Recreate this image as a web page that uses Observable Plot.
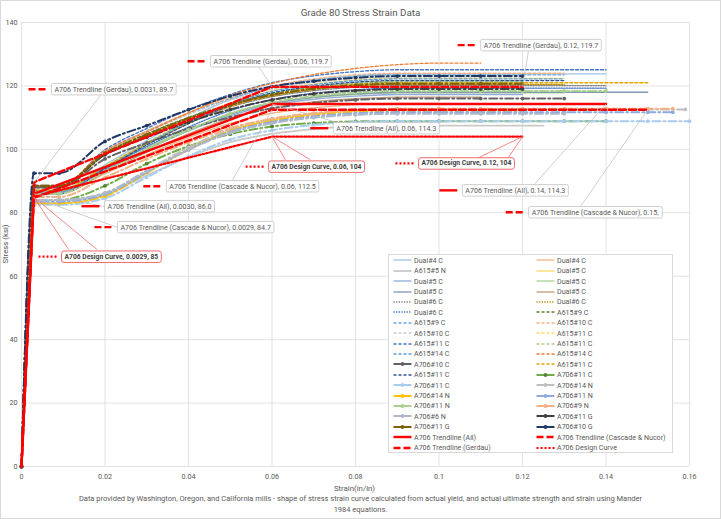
<!DOCTYPE html>
<html><head><meta charset="utf-8">
<script src="https://cdn.jsdelivr.net/npm/d3@7"></script>
<script src="https://cdn.jsdelivr.net/npm/@observablehq/plot@0.6"></script>
<style>
body{margin:0;background:#fff;}
#chart{position:relative;width:721px;height:519px;overflow:hidden;background:#fff;
  font-family:Roboto,"Noto Sans",sans-serif;color:#595959;}
#chart svg.plot{position:absolute;left:0;top:0;}
.frame{position:absolute;left:0;top:0;width:719px;height:517px;border:1px solid #d9d9d9;pointer-events:none;}
.title,.xlabel,.caption{position:absolute;left:0;width:721px;text-align:center;color:#595959;white-space:nowrap;}
.ylabel{position:absolute;width:100px;text-align:center;color:#595959;transform:rotate(-90deg);white-space:nowrap;}
.legend{position:absolute;left:388px;top:254px;width:285px;height:199px;background:#fff;border:1px solid #d9d9d9;box-sizing:border-box;}
.li{position:absolute;height:9px;white-space:nowrap;line-height:9px;color:#595959;}
.li svg{position:absolute;left:0;top:0.5px;}
.li span{position:absolute;left:21px;top:0;}
</style></head>
<body>
<div id="chart"></div>
<script>
// ---------------- data ----------------
const xTicks = [0, 0.02, 0.04, 0.06, 0.08, 0.10, 0.12, 0.14, 0.16];
const xTickLabels = ["0", "0.02", "0.04", "0.06", "0.08", "0.1", "0.12", "0.14", "0.16"];
const yTicks = [0, 20, 40, 60, 80, 100, 120, 140];

// strain points at which curve stresses were read (in/in)
const strainGrid = [0, 0.003, 0.009, 0.02, 0.03, 0.04, 0.05, 0.06, 0.07, 0.08, 0.09, 0.10, 0.11, 0.12, 0.13, 0.14, 0.15, 0.16];

const seriesNames = [
  "Dual#4 C","Dual#4 C","A615#5 N","Dual#5 C","Dual#5 C","Dual#5 C","Dual#5 C","Dual#5 C",
  "Dual#6 C","Dual#6 C","Dual#6 C","A615#9 C","A615#9 C","A615#10 C","A615#10 C","A615#11 C",
  "A615#11 C","A615#11 C","A615#14 C","A615#14 C","A706#10 C","A615#11 C","A615#11 C","A706#11 C",
  "A706#11 C","A706#14 N","A706#14 N","A706#11 N","A706#11 N","A706#9 N","A706#6 N","A706#11 G",
  "A706#11 G","A706#10 G",
  "A706 Trendline (All)","A706 Trendline (Cascade & Nucor)","A706 Trendline (Gerdau)","A706 Design Curve"
];

// stress (ksi) read at strainGrid points; last value continues flat to the series' final strain
const curveStress = [
  [0,87,87,95.1,102.8,109.8,115.7,119.8,122.0,123.2,123.8],
  [0,86,86,92.3,98.3,103.7,108.2,111.4,113.1,114.1,114.5],
  [0,84,84,85.9,91.8,97.6,102.3,104.9,106.4,107.3,107.5],
  [0,83,83,85.4,92.7,100.1,106.0,109.3,111.2,112.2,112.5],
  [0,87,87,93.7,100.0,105.8,110.6,114.0,115.8,116.8,117.3],
  [0,87.5,87.5,94.2,100.5,106.3,111.1,114.5,116.3,117.3,117.8],
  [0,86.5,86.5,93.4,100.0,106.0,111.1,114.5,116.4,117.5,118.0],
  [0,86,86,92.7,99.1,104.9,109.8,113.1,115.0,116.0,116.5],
  [0,88,88,98.3,104.1,109.2,113.4,116.6,118.5,119.6,120.1],
  [0,88,88,98.4,104.3,109.5,113.7,116.9,118.9,120.0,120.5],
  [0,87,87,94.1,100.9,107.0,112.2,115.7,117.7,118.8,119.3],
  [0,88.5,88.5,99.0,104.9,110.1,114.3,117.6,119.6,120.7,121.2],
  [0,88,88,99.4,105.8,111.4,116.0,119.6,121.7,123.0,123.5],
  [0,87.5,87.5,99.2,105.8,111.6,116.3,120.0,122.2,123.5,124.0],
  [0,88,88,99.1,105.4,111.0,115.5,119.0,121.1,122.3,122.8],
  [0,87,87,94.8,102.2,109.0,114.6,118.5,120.6,121.9,122.4],
  [0,88,88,99.9,106.6,112.5,117.3,121.0,123.2,124.5,125.1],
  [0,87,87,94.6,101.8,108.4,113.9,117.7,119.8,121.0,121.5],
  [0,86.5,86.5,94.4,101.9,108.6,114.3,118.3,120.4,121.7,122.2],
  [0,88.5,88.5,99.5,105.5,111.5,117.0,120.8,123.6,125.5,126.7,127.2],
  [0,88,88,97.0,102.0,106.5,110.1,112.9,114.6,115.6,116.0],
  [0,87,87,94.5,101.6,108.1,113.5,117.3,119.3,120.5,121.0],
  [0,86,86,93.9,101.4,108.1,113.8,117.8,119.9,121.2,121.7],
  [0,84,84,88.5,95.5,101.0,104.8,107.2,108.3,108.8,108.9],
  [0,82.5,82.5,84.6,91.2,97.8,103.1,106.0,107.7,108.6,108.9],
  [0,84,84,86.3,93.4,100.6,106.3,109.5,111.3,112.3,112.6],
  [0,83,83,85.3,92.6,99.9,105.8,109.0,110.9,111.9,112.2],
  [0,83.5,83.5,85.8,92.8,99.9,105.5,108.6,110.4,111.4,111.7],
  [0,86,86,93.1,99.9,106.1,111.3,114.8,116.8,117.9,118.4],
  [0,85,85,91.1,97.0,102.2,106.7,109.7,111.4,112.4,112.8],
  [0,84,84,86.2,93.0,99.8,105.2,108.2,110.0,110.9,111.2],
  [0,88.5,88.5,98.3,103.8,108.6,112.6,115.6,117.5,118.5,119.0],
  [0,88.5,88.5,98.8,104.6,109.8,114.0,117.2,119.1,120.2,120.7],
  [0,92.5,92.5,102.5,107.5,112.5,116.8,119.8,121.5,122.6,123.1]
];
// final strain of each measured curve
const curveEnd = [0.14,0.10,0.125,0.12,0.12,0.13,0.15,0.11,0.14,0.13,0.14,0.12,0.13,0.13,0.12,0.13,
  0.14,0.12,0.13,0.11,0.13,0.15,0.13,0.14,0.16,0.159,0.12,0.156,0.14,0.156,0.13,0.12,0.12,0.12];

// trendlines / design curve
const trendStrain = [[0,0.0030,0.06,0.14],[0,0.0029,0.06,0.15],[0,0.0031,0.06,0.12],[0,0.0029,0.06,0.12]];
const trendStress = [[0,86.0,114.3,114.3],[0,84.7,112.5,112.5],[0,89.7,119.7,119.7],[0,85,104,104]];

// callouts
const calloutText = [
  "A706 Trendline (Gerdau), 0.0031, 89.7","A706 Trendline (Gerdau), 0.06, 119.7","A706 Trendline (Gerdau), 0.12, 119.7",
  "A706 Trendline (All), 0.06, 114.3","A706 Trendline (All), 0.14, 114.3","A706 Trendline (Cascade & Nucor), 0.06, 112.5",
  "A706 Trendline (Cascade & Nucor), 0.0029, 84.7","A706 Trendline (Cascade & Nucor), 0.15,","A706 Trendline (All), 0.0030, 86.0",
  "A706 Design Curve, 0.0029, 85","A706 Design Curve, 0.06, 104","A706 Design Curve, 0.12, 104"
];
const calloutPoint = [[0.0031,89.7],[0.06,119.7],[0.12,119.7],[0.06,114.3],[0.14,114.3],[0.06,112.5],
  [0.0029,84.7],[0.15,112.5],[0.003,86.0],[0.0029,85],[0.06,104],[0.12,104]];
const calloutSeries = [36,36,36,34,34,35,35,35,34,37,37,37];
// layout of the callout boxes, in chart units (text left edge, text middle)
const calloutAt = [[0.0079,118.9],[0.046,127.7],[0.1107,132.8],[0.0754,106.6],[0.1063,87.0],[0.0354,88.3],
  [0.0237,75.4],[0.1222,80.1],[0.0206,82.0],[0.0103,66.2],[0.0599,94.6],[0.0958,95.6]];
const calloutLeader = [[[0.0189,117.0]],[[0.0568,126.1]],[[0.1214,130.9]],[[0.0764,108.2]],[[0.1226,88.6]],
  [[0.0505,90.2]],[[0.023,75.4]],[[0.1339,82.0]],[[0.0199,82.0]],
  [[0.0113,68.4],[0.0181,68.4]],[[0.0632,96.7],[0.0692,96.7]],[[0.1095,97.4],[0.1166,97.4]]];

const titleText = "Grade 80 Stress Strain Data";
const xLabel = "Strain(in/in)";
const yLabel = "Stress (ksi)";
const captionLines = ["Data provided by Washington, Oregon, and California mills - shape of stress strain curve calculated from actual yield, and actual ultimate strength and strain using Mander", "1984 equations."];

// ---------------- styles ----------------
const seriesColor = ["#9DC3E6","#F4B183","#C9C9C9","#FFD966","#8FAADC","#A9D18E","#8497B0","#C09A78",
  "#7F7F7F","#BF9000","#4472C4","#548235","#6FA8DC","#F4B183","#C9C9C9","#FFD966",
  "#4472C4","#A9D18E","#5B9BD5","#ED7D31","#636363","#E3A600","#2F5597","#70AD47",
  "#A8CDEE","#BFBFBF","#FFC000","#8FAADC","#A9D18E","#F4B183","#ADB9CA","#404040",
  "#7F6000","#203864","#FF0000","#FF0000","#FF0000","#FF0000"];
const markerColor = {23:"#548235"};
const seriesKind = ["s","s","s","s","s","s","s","s","o","o","o","d","d","d","d","d",
  "d","d","d","d","m","d","d","m","m","m","m","m","m","m","m","m","m","m","S","D","D","O"];
const kindDash = {s:null, o:"1.3,1.3", d:"3,2", m:"8,3,2,3", S:null, D:"7,3", O:"2,2"};
const kindWidth = {s:1.3, o:1.3, d:1.3, m:2, S:2.4, D:2.4, O:2.2};
const widthOverride = {2:1.8};

const FONT = 'Roboto,"Noto Sans",sans-serif';
// font sizes fitted so that text widths match the reference picture
const ctx = document.createElement("canvas").getContext("2d");
function fitSize(text, targetWidth, weight) {
  ctx.font = `${weight || "normal"} 100px ${FONT}`;
  return Math.round(1000 * targetWidth / ctx.measureText(text).width) / 10;
}
const smallSize = fitSize(calloutText[0], 118.5);
const tickSize = fitSize("0.02", 14);
const titleSize = fitSize(titleText, 120);
const labelSize = fitSize(xLabel, 41);
const captionSize = fitSize(captionLines[0], 560);

// ---------------- build ----------------
function seriesPoints(vals, end) {
  const pts = [];
  vals.forEach((v, j) => { if (strainGrid[j] < end - 1e-9) pts.push({x: strainGrid[j], y: v}); });
  const last = vals[vals.length - 1];
  for (let j = vals.length; j < strainGrid.length && strainGrid[j] < end - 1e-9; j++) pts.push({x: strainGrid[j], y: last});
  pts.push({x: end, y: last});
  return pts;
}

const marks = [
  Plot.gridX(xTicks, {stroke: "#d9d9d9", strokeOpacity: 1, strokeWidth: 0.75}),
  Plot.gridY(yTicks, {stroke: "#d9d9d9", strokeOpacity: 1, strokeWidth: 0.75}),
  Plot.axisX(xTicks, {tickSize: 0, tickPadding: 7, label: null, fontSize: tickSize,
    tickFormat: d => xTickLabels[xTicks.indexOf(d)]}),
  Plot.axisY(yTicks, {tickSize: 0, tickPadding: 4, label: null, fontSize: tickSize})
];
curveStress.forEach((vals, i) => {
  const pts = seriesPoints(vals, curveEnd[i]);
  const k = seriesKind[i];
  marks.push(Plot.line(pts, {x: "x", y: "y", curve: "monotone-x", stroke: seriesColor[i],
    strokeWidth: widthOverride[i] ?? kindWidth[k], strokeDasharray: kindDash[k] ?? undefined}));
  if (k === "m") marks.push(Plot.dot(pts, {x: "x", y: "y", r: 1.9, fill: markerColor[i] ?? seriesColor[i], stroke: "none"}));
});
trendStrain.forEach((xs, t) => {
  const i = 34 + t, k = seriesKind[i];
  const pts = xs.map((x, j) => ({x, y: trendStress[t][j]}));
  marks.push(Plot.line(pts, {x: "x", y: "y", stroke: seriesColor[i], strokeWidth: kindWidth[k],
    strokeDasharray: kindDash[k] ?? undefined}));
});
// callout leaders
const leaders = [];
calloutLeader.forEach((ends, c) => ends.forEach(e => leaders.push({c, x1: calloutPoint[c][0], y1: calloutPoint[c][1], x2: e[0], y2: e[1], red: calloutSeries[c] === 37})));
marks.push(Plot.link(leaders.filter(d => !d.red), {x1: "x1", y1: "y1", x2: "x2", y2: "y2", stroke: "#bfbfbf", strokeWidth: 0.75}));
marks.push(Plot.link(leaders.filter(d => d.red), {x1: "x1", y1: "y1", x2: "x2", y2: "y2", stroke: "#f26b6b", strokeWidth: 0.8}));
const grayIdx = d3.range(12).filter(c => calloutSeries[c] !== 37);
const redIdx = d3.range(12).filter(c => calloutSeries[c] === 37);
marks.push(Plot.text(grayIdx, {x: c => calloutAt[c][0], y: c => calloutAt[c][1], text: c => calloutText[c],
  textAnchor: "start", fill: "#595959", fontSize: smallSize}));
marks.push(Plot.text(redIdx, {x: c => calloutAt[c][0], y: c => calloutAt[c][1], text: c => calloutText[c],
  textAnchor: "start", fill: "#404040", fontSize: smallSize * 0.95, fontWeight: "bold"}));

const plot = Plot.plot({
  width: 721, height: 519,
  marginLeft: 21, marginRight: 32, marginTop: 22, marginBottom: 53,
  x: {domain: [0, 0.16]},
  y: {domain: [0, 140]},
  style: {fontFamily: FONT, fontSize: tickSize + "px", color: "#595959", background: "transparent", overflow: "visible"},
  marks
});
plot.classList.add("plot");
const root = document.getElementById("chart");
root.appendChild(plot);

// boxes + legend keys behind callout texts
const NS = "http://www.w3.org/2000/svg";
Array.from(plot.querySelectorAll("text")).forEach(t => {
  const c = calloutText.indexOf(t.textContent);
  if (c < 0) return;
  const s = calloutSeries[c], k = seriesKind[s], red = s === 37;
  const g = t.parentNode;
  const b = t.getBBox();
  const tr = t.getAttribute("transform");
  const bx = b.x - 3, bh = 11.5, by = b.y + b.height / 2 - bh / 2, bw = b.width + 6;
  const rect = document.createElementNS(NS, "rect");
  rect.setAttribute("x", bx); rect.setAttribute("y", by);
  rect.setAttribute("width", bw); rect.setAttribute("height", bh);
  rect.setAttribute("rx", red ? 2.5 : 1.5);
  rect.setAttribute("fill", "#fff");
  rect.setAttribute("stroke", red ? "#f26b6b" : "#bfbfbf");
  rect.setAttribute("stroke-width", red ? 1 : 0.75);
  if (tr) rect.setAttribute("transform", tr);
  g.insertBefore(rect, t);
  const key = document.createElementNS(NS, "line");
  key.setAttribute("x1", bx - 23); key.setAttribute("x2", bx - 5);
  key.setAttribute("y1", by + bh / 2); key.setAttribute("y2", by + bh / 2);
  key.setAttribute("stroke", seriesColor[s]);
  key.setAttribute("stroke-width", kindWidth[k]);
  if (kindDash[k]) key.setAttribute("stroke-dasharray", kindDash[k]);
  if (tr) key.setAttribute("transform", tr);
  g.insertBefore(key, t);
});

// texts
function add(cls, text, top, size, lh) {
  const d = document.createElement("div");
  d.className = cls; d.textContent = text;
  d.style.top = top + "px"; d.style.fontSize = size + "px"; d.style.lineHeight = lh + "px";
  root.appendChild(d); return d;
}
add("title", titleText, 13 - 7, titleSize, 14);
add("xlabel", xLabel, 489.3 - 5, labelSize, 10).style.left = "-6px";
const yl = add("ylabel", yLabel, 244 - 5, labelSize, 10);
yl.style.left = (6 - 50) + "px";
add("caption", captionLines[0], 499.3 - 5, captionSize, 10);
add("caption", captionLines[1], 510 - 5, captionSize, 10);

// legend
const leg = d3.select(root).append("div").attr("class", "legend");
seriesNames.forEach((name, i) => {
  const row = Math.floor(i / 2), col = i % 2, k = seriesKind[i];
  const item = leg.append("div").attr("class", "li").style("font-size", smallSize + "px")
    .style("left", (col ? 147 : 4) + "px").style("top", (0.8 + row * 10.4) + "px");
  const s = item.append("svg").attr("width", 19).attr("height", 8);
  s.append("line").attr("x1", 0.5).attr("x2", 18.5).attr("y1", 4).attr("y2", 4)
    .attr("stroke", seriesColor[i]).attr("stroke-width", widthOverride[i] ?? kindWidth[k])
    .attr("stroke-dasharray", k === "m" ? null : kindDash[k]);
  if (k === "m") s.append("circle").attr("cx", 9.5).attr("cy", 4).attr("r", 1.9).attr("fill", markerColor[i] ?? seriesColor[i]);
  item.append("span").text(name);
});
const fr = document.createElement("div"); fr.className = "frame"; root.appendChild(fr);
</script>
</body></html>
